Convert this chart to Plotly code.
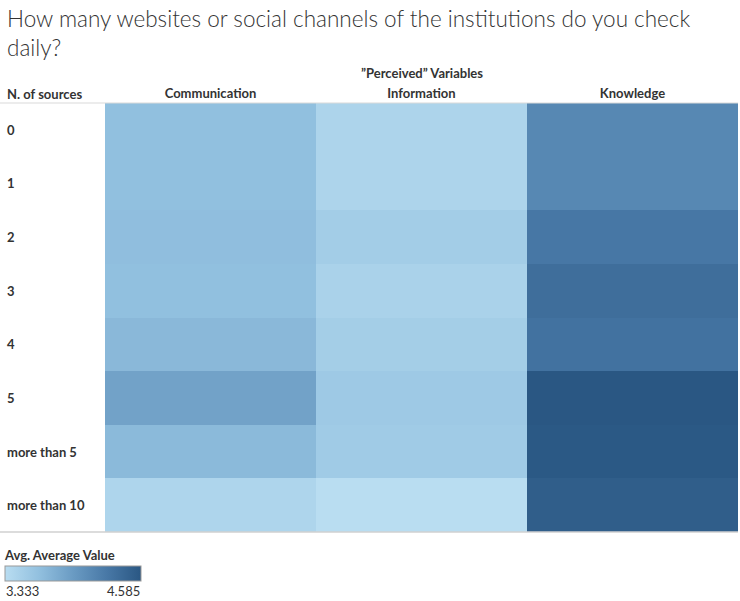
import plotly.graph_objects as go

title_text = "How many websites or social channels of the institutions do you check<br>daily?"
columns = ["Communication", "Information", "Knowledge"]
rows = ["0", "1", "2", "3", "4", "5", "more than 5", "more than 10"]
communication = [3.65, 3.65, 3.66, 3.65, 3.71, 3.90, 3.70, 3.42]
information = [3.43, 3.43, 3.51, 3.45, 3.50, 3.55, 3.53, 3.333]
knowledge = [4.13, 4.13, 4.28, 4.37, 4.33, 4.585, 4.57, 4.52]
vmin, vmax = 3.333, 4.585

z = [[c, i, k] for c, i, k in zip(communication, information, knowledge)]

W, H = 740, 601
ml, mr, mt, mb = 105, 2, 103, 69
pw = W - ml - mr
ph = H - mt - mb

def px_x(p):
    return (p - ml) / pw

def px_y(p):
    return (H - mb - p) / ph

colorscale = [[0.0, "#b9ddf1"], [0.25, "#92c0df"], [0.5, "#6a9bc3"],
              [0.75, "#4878a6"], [1.0, "#2a5783"]]

fig = go.Figure(go.Heatmap(
    z=z, x=columns, y=rows, zmin=vmin, zmax=vmax, colorscale=colorscale,
    xgap=0, ygap=0,
    colorbar=dict(orientation="h", x=px_x(5), xanchor="left", y=px_y(566), yanchor="top",
                  lenmode="pixels", len=136, thickness=15, xpad=0, ypad=0,
                  outlinecolor="#999999", outlinewidth=1, showticklabels=False, ticks=""),
))

font_family = "Lato, 'Open Sans', sans-serif"
fig.update_layout(
    width=W, height=H, margin=dict(l=ml, r=mr, t=mt, b=mb, autoexpand=False),
    paper_bgcolor="white", plot_bgcolor="white",
    font=dict(family=font_family, color="#333333"),
    xaxis=dict(side="top", showgrid=False, zeroline=False, showline=False, ticks="",
               tickfont=dict(size=13, color="#333333", weight="bold"), ticklabelstandoff=1),
    yaxis=dict(autorange="reversed", showgrid=False, zeroline=False, showline=False,
               showticklabels=False, ticks=""),
)

lab_font = dict(size=13, color="#333333", weight="bold")
ann = []
ann.append(dict(text=title_text, xref="paper", yref="paper", x=px_x(5), y=px_y(3),
                xanchor="left", yanchor="top", align="left", showarrow=False,
                font=dict(size=22.5, color="#333333", family=font_family, weight=300)))
ann.append(dict(text="”Perceived” Variables", xref="paper", yref="paper", x=0.5, y=px_y(73),
                xanchor="center", yanchor="middle", showarrow=False, font=lab_font))
ann.append(dict(text="N. of sources", xref="paper", yref="paper", x=px_x(5), y=px_y(94),
                xanchor="left", yanchor="middle", showarrow=False, font=lab_font))
for r in rows:
    ann.append(dict(text=r, xref="paper", yref="y", x=px_x(5), y=r, xanchor="left",
                    yanchor="middle", showarrow=False, font=lab_font))
ann.append(dict(text="Avg. Average Value", xref="paper", yref="paper", x=px_x(2), y=px_y(555),
                xanchor="left", yanchor="middle", showarrow=False, font=lab_font))
ann.append(dict(text=f"{vmin:.3f}", xref="paper", yref="paper", x=px_x(4), y=px_y(591),
                xanchor="left", yanchor="middle", showarrow=False,
                font=dict(size=13, color="#333333")))
ann.append(dict(text=f"{vmax:.3f}", xref="paper", yref="paper", x=px_x(142), y=px_y(591),
                xanchor="right", yanchor="middle", showarrow=False,
                font=dict(size=13, color="#333333")))
fig.update_layout(annotations=ann)

fig.add_shape(type="line", xref="paper", yref="paper", x0=px_x(0), x1=1, y0=1, y1=1,
              line=dict(color="#d9d9d9", width=1))
fig.add_shape(type="line", xref="paper", yref="paper", x0=px_x(0), x1=1, y0=0, y1=0,
              line=dict(color="#d0d0d0", width=1.5))

fig.write_html("out.html", config={"displayModeBar": False},
               post_script="document.body.style.margin='0';document.body.style.overflow='hidden';")
